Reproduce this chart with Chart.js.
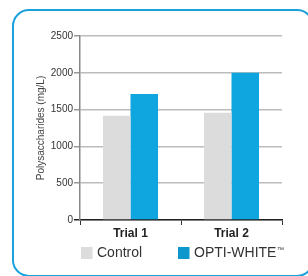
<!DOCTYPE html>
<html>
<head>
<meta charset="utf-8">
<script src="https://cdn.jsdelivr.net/npm/chart.js@4/dist/chart.umd.min.js"></script>
<style>
  html, body { margin: 0; padding: 0; background: #ffffff; overflow: hidden; }
  #wrap { position: relative; width: 308px; height: 276px; }
  #frame {
    position: absolute; left: 12px; top: 9px; width: 302px; height: 268px;
    box-sizing: border-box; border: 2px solid #1ba1dc; border-radius: 17px;
    pointer-events: none;
  }
  canvas { position: absolute; left: 0; top: 0; }
</style>
</head>
<body>
<div id="wrap">
  <div id="frame"></div>
  <canvas id="c" width="308" height="276"></canvas>
</div>
<script>
// ---- data ----
const categories = ['Trial 1', 'Trial 2'];
const controlValues = [1415, 1458];
const optiWhiteValues = [1712, 2000];
const seriesNames = ['Control', 'OPTI-WHITE\u2122'];
const yTicks = [0, 500, 1000, 1500, 2000, 2500];
const yTickLabels = ['0', '500', '1000', '1500', '2000', '2500'];
const yTitle = 'Polysaccharides (mg/L)';

const FONT = "'Liberation Sans', Arial, Helvetica, sans-serif";
const colControl = '#dcdcdd';
const colOpti = '#0fa6df';
const colOptiLegend = '#0d97cd';

const legendPlugin = {
  id: 'customLegend',
  afterDraw(chart) {
    const ctx = chart.ctx;
    const area = chart.chartArea;
    const y = area.bottom + 33;
    const offsets = [1, 98];
    ctx.save();
    chart.data.datasets.forEach((ds, i) => {
      const x = area.left + offsets[i];
      ctx.fillStyle = ds.legendColor || ds.backgroundColor;
      ctx.fillRect(x, y - 6, 11.5, 12);
      ctx.fillStyle = '#333333';
      ctx.textBaseline = 'middle';
      ctx.textAlign = 'left';
      let label = ds.label;
      let tm = '';
      if (label.endsWith('\u2122')) { tm = '\u2122'; label = label.slice(0, -1); }
      ctx.font = '14px ' + FONT;
      ctx.fillText(label, x + 16, y + 0.5);
      if (tm) {
        const w = ctx.measureText(label).width;
        ctx.font = '7px ' + FONT;
        ctx.fillText(tm, x + 16 + w + 0.5, y - 3);
      }
    });
    ctx.restore();
  }
};

new Chart(document.getElementById('c'), {
  type: 'bar',
  data: {
    labels: categories,
    datasets: [
      { label: seriesNames[0], data: controlValues, backgroundColor: colControl,
        categoryPercentage: 0.545, barPercentage: 1.0, borderWidth: 0 },
      { label: seriesNames[1], data: optiWhiteValues, backgroundColor: colOpti, legendColor: colOptiLegend,
        categoryPercentage: 0.545, barPercentage: 1.0, borderWidth: 0 }
    ]
  },
  options: {
    responsive: false,
    animation: false,
    devicePixelRatio: 1,
    layout: { padding: { left: 0, top: 36, right: 26, bottom: 36 } },
    plugins: {
      legend: { display: false },
      tooltip: { enabled: false },
      title: { display: false }
    },
    scales: {
      x: {
        type: 'category',
        offset: true,
        afterFit(scale) { scale.height = 20; },
        grid: {
          offset: true,
          drawOnChartArea: false,
          drawTicks: true,
          tickLength: 5,
          tickColor: '#333333',
          lineWidth: 1
        },
        border: { display: true, color: '#222222', width: 1.5 },
        ticks: {
          color: '#222222',
          padding: 1,
          font: { family: FONT, size: 12, weight: 'bold' }
        }
      },
      y: {
        min: yTicks[0],
        max: yTicks[yTicks.length - 1],
        afterFit(scale) { scale.width = 80; },
        afterBuildTicks(scale) { scale.ticks = yTicks.map(v => ({ value: v })); },
        grid: {
          color: '#bcbcbc',
          lineWidth: 1.5,
          drawTicks: true,
          tickLength: 6,
          tickColor: (c) => (c.tick && c.tick.value === 0 ? '#222222' : '#999999')
        },
        border: { display: true, color: '#888888', width: 1.5 },
        ticks: {
          color: '#333333',
          padding: 1,
          font: { family: FONT, size: 10 },
          callback: (value) => {
            const i = yTicks.indexOf(value);
            return i >= 0 ? yTickLabels[i] : String(value);
          }
        },
        title: {
          display: true,
          text: yTitle,
          color: '#444444',
          font: { family: FONT, size: 10 },
          padding: { top: 35, bottom: 0 }
        }
      }
    }
  },
  plugins: [legendPlugin]
});
</script>
</body>
</html>
